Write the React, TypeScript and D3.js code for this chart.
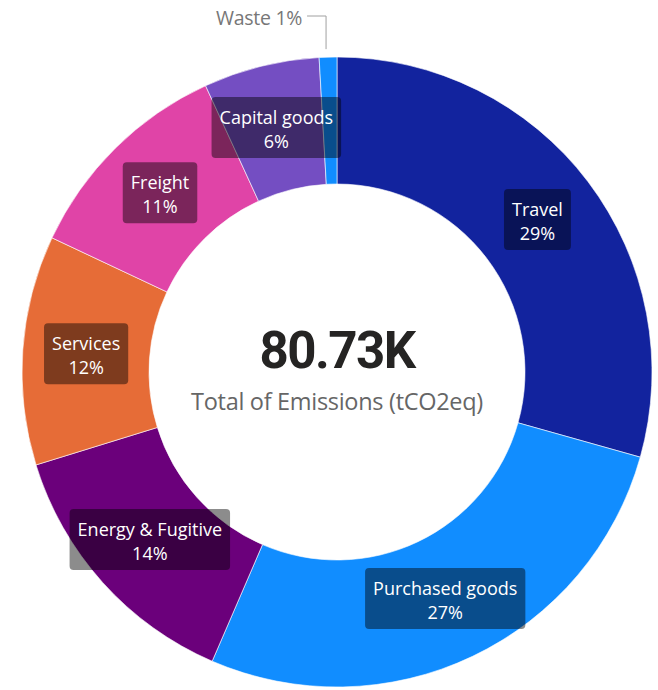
import React, { useEffect, useRef } from "react";
import * as d3 from "d3";

const categories = ["Travel", "Purchased goods", "Energy & Fugitive", "Services", "Freight", "Capital goods", "Waste"];
const emissions = [23.7, 21.9, 11.1, 9.5, 9.0, 4.8, 0.73]; // thousand tCO2eq
const colors = ["#12239E", "#118DFF", "#6B007B", "#E66C37", "#E044A7", "#744EC2", "#118DFF"];
const outsideLabels = ["Waste"];
const totalLabel = "Total of Emissions (tCO2eq)";

const W = 658;
const H = 690;

export default function App() {
  const ref = useRef<SVGSVGElement | null>(null);

  useEffect(() => {
    const svg = d3.select(ref.current);
    svg.selectAll("*").remove();
    const cx = 337, cy = 372;
    const outerR = 315, innerR = 188;
    const total = d3.sum(emissions);
    const data = categories.map((c, i) => ({ name: c, value: emissions[i], color: colors[i] }));
    const pie = d3.pie<any>().value((d: any) => d.value).sort(null);
    const arcs = pie(data);
    const arc = d3.arc<any>().innerRadius(innerR).outerRadius(outerR);
    const g = svg.append("g").attr("transform", `translate(${cx},${cy})`);

    g.selectAll("path.slice")
      .data(arcs)
      .join("path")
      .attr("class", "slice")
      .attr("d", arc as any)
      .attr("fill", (d: any) => d.data.color)
      .attr("stroke", "#fff")
      .attr("stroke-width", 0.6);

    const fmtPct = (v: number) => `${Math.round((v / total) * 100)}%`;
    const font = "'Open Sans', 'Noto Sans', sans-serif";

    arcs.forEach((a: any) => {
      if (outsideLabels.includes(a.data.name)) {
        const mid = (a.startAngle + a.endAngle) / 2;
        const x0 = outerR * Math.sin(mid) - 2;
        const y0 = -outerR * Math.cos(mid) - 8;
        const yLine = -cy + 16;
        g.append("path")
          .attr("d", `M${x0},${y0} L${x0},${yLine} L${x0 - 19},${yLine}`)
          .attr("fill", "none")
          .attr("stroke", "#a0a0a0")
          .attr("stroke-width", 1);
        g.append("text")
          .attr("x", x0 - 24)
          .attr("y", yLine + 9)
          .attr("text-anchor", "end")
          .attr("font-family", font)
          .attr("font-size", 19.5)
          .attr("letter-spacing", -0.3)
          .attr("fill", "#777777")
          .text(`${a.data.name} ${fmtPct(a.data.value)}`);
        return;
      }
      const [lx, ly] = arc.centroid(a);
      const lg = g.append("g").attr("transform", `translate(${lx},${ly})`);
      const rect = lg.append("rect");
      const t1 = lg.append("text")
        .attr("text-anchor", "middle")
        .attr("y", -4)
        .attr("font-family", font)
        .attr("font-size", 18)
        .attr("fill", "#ffffff")
        .text(a.data.name);
      const t2 = lg.append("text")
        .attr("text-anchor", "middle")
        .attr("y", 20)
        .attr("font-family", font)
        .attr("font-size", 18)
        .attr("fill", "#ffffff")
        .text(fmtPct(a.data.value));
      const w = Math.max((t1.node() as SVGTextElement).getComputedTextLength(), (t2.node() as SVGTextElement).getComputedTextLength());
      rect
        .attr("x", -w / 2 - 8)
        .attr("y", -31)
        .attr("width", w + 16)
        .attr("height", 61)
        .attr("rx", 4)
        .attr("fill", "rgba(0,0,0,0.45)");
    });

    g.append("text")
      .attr("text-anchor", "middle")
      .attr("y", -4)
      .attr("font-family", "Roboto, 'Open Sans', sans-serif")
      .attr("font-weight", 700)
      .attr("font-size", 51)
      .attr("letter-spacing", -1.5)
      .attr("fill", "#252423")
      .text(`${(total).toFixed(2)}K`);
    g.append("text")
      .attr("text-anchor", "middle")
      .attr("y", 38)
      .attr("font-family", font)
      .attr("font-size", 23.5)
      .attr("letter-spacing", -0.3)
      .attr("fill", "#666666")
      .text(totalLabel);
  }, []);

  return (
    <svg
      ref={ref}
      width={W}
      height={H}
      style={{ position: "absolute", left: 0, top: 0, background: "#ffffff" }}
    />
  );
}
